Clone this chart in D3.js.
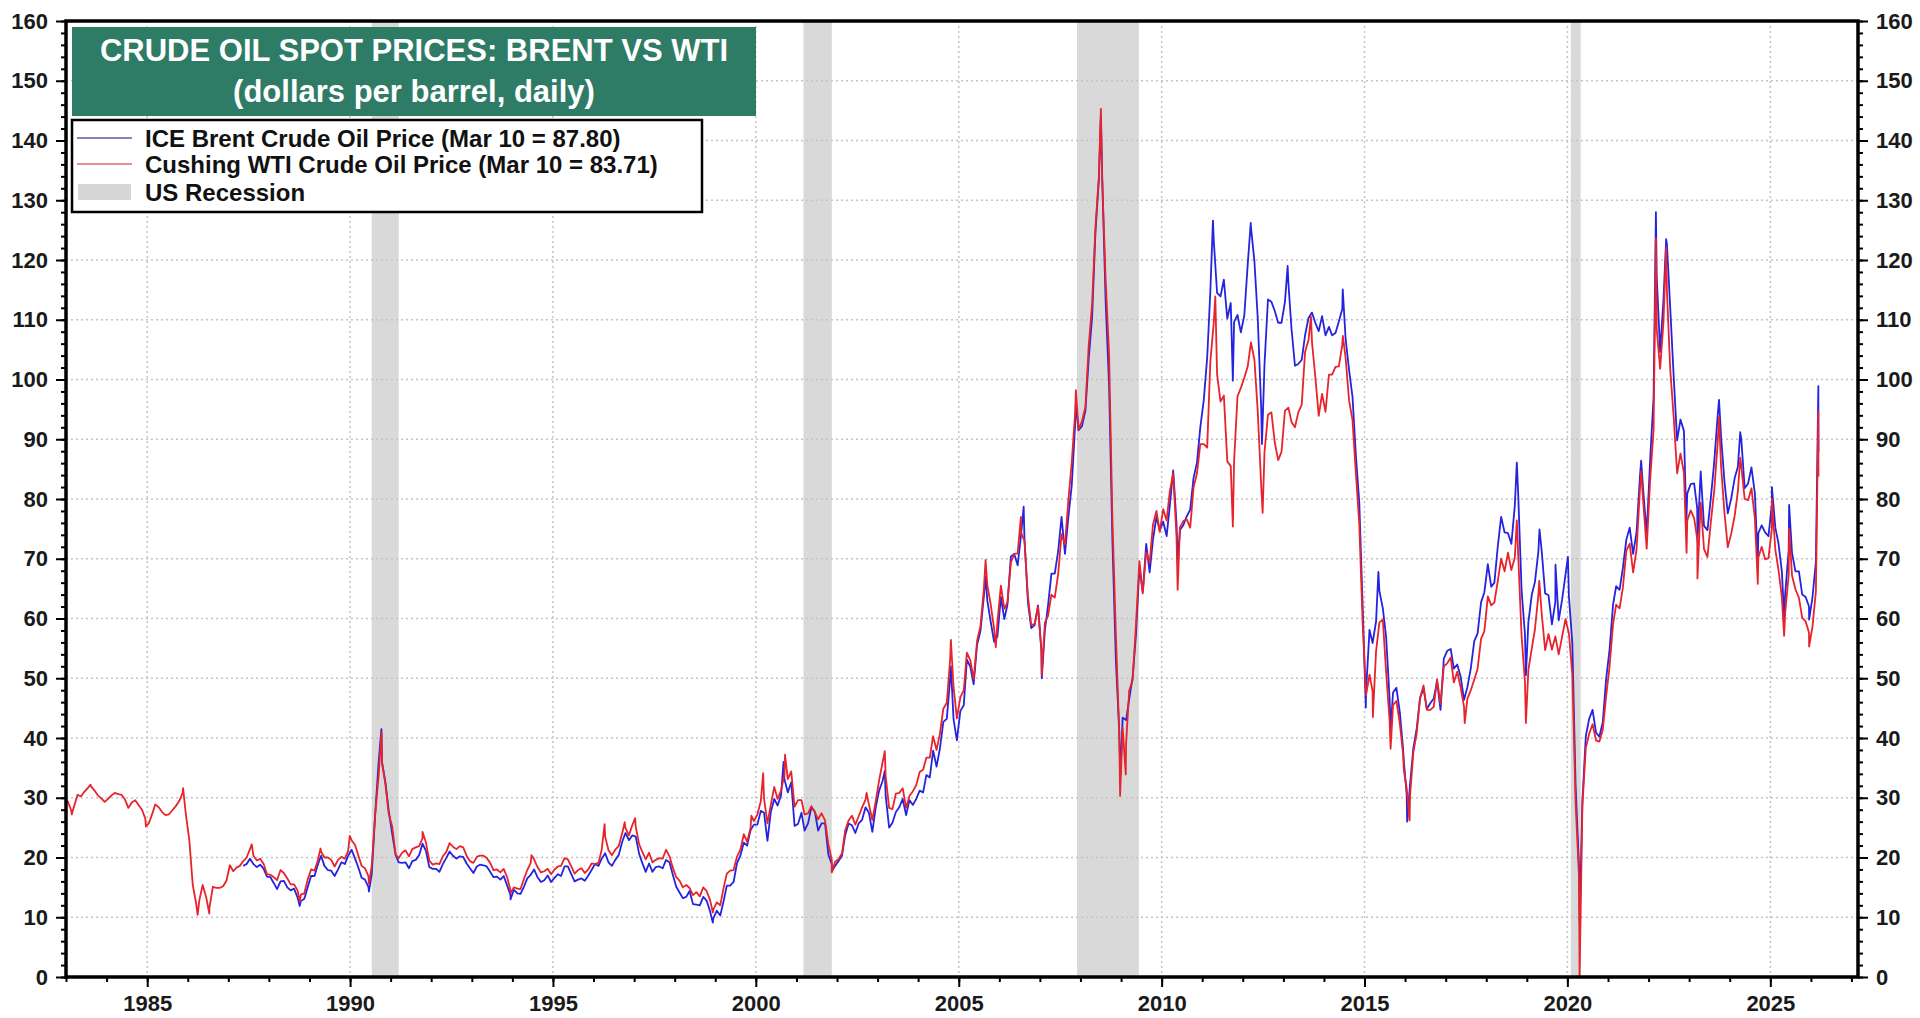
<!DOCTYPE html>
<html><head><meta charset="utf-8">
<script src="https://cdn.jsdelivr.net/npm/d3@7"></script>
<style>html,body{margin:0;padding:0;background:#fff;}svg{display:block;font-family:"Liberation Sans",Arial,sans-serif;}</style>
</head><body><svg id="c" width="1920" height="1018"></svg>
<script>
// ---------- DATA ----------
const titleLines = ["CRUDE OIL SPOT PRICES: BRENT VS WTI", "(dollars per barrel, daily)"];
const legendLabels = ["ICE Brent Crude Oil Price (Mar 10 = 87.80)", "Cushing WTI Crude Oil Price (Mar 10 = 83.71)", "US Recession"];
const yTicks = [0,10,20,30,40,50,60,70,80,90,100,110,120,130,140,150,160];
const xTickYears = [1985,1990,1995,2000,2005,2010,2015,2020,2025];
const recessions = [["1990-07-15","1991-03-15"],["2001-03-05","2001-11-15"],["2007-12-01","2009-06-10"],["2020-02-01","2020-04-30"]];

// WTI monthly readings, starting Jan 1983
const wtiStart = [1983, 0];
const wtiMonthly = [
29.5,28.0,28.6,30.5,30.2,31.0,31.6,31.9,31.2,30.4,29.9,29.3,
29.8,30.4,30.8,30.6,30.5,29.7,28.3,29.2,29.6,28.8,28.0,26.5,
25.7,27.3,28.9,28.4,27.6,27.1,27.2,27.9,28.6,29.4,30.8,27.2,
22.9,15.4,12.6,12.8,15.4,13.4,11.6,15.1,14.9,14.9,15.2,16.1,
18.7,17.7,18.3,18.6,19.4,20.0,21.4,20.3,19.5,19.8,18.9,17.2,
17.1,16.7,16.2,17.9,17.4,16.5,15.5,15.5,14.5,13.8,14.0,16.3,
18.0,17.8,19.4,21.0,20.0,20.0,19.6,18.5,19.6,20.1,19.8,21.1,
22.9,22.1,20.4,18.6,18.2,16.9,18.6,27.2,33.7,35.9,32.3,27.3,
25.2,20.5,19.9,20.8,21.2,20.2,21.4,21.7,21.9,23.2,22.5,19.5,
18.8,19.0,18.9,20.2,20.9,22.4,21.8,21.4,21.9,21.7,20.3,19.4,
19.1,20.1,20.3,20.3,19.9,19.1,17.9,18.0,17.5,18.1,16.7,14.5,
15.0,14.8,14.7,16.4,17.9,19.1,19.7,18.4,17.5,17.7,18.1,17.2,
18.0,18.5,18.6,19.9,19.7,18.5,17.3,17.9,18.2,17.4,18.0,19.0,
18.9,19.1,21.3,23.5,21.2,20.4,21.3,21.9,24.0,24.9,23.7,25.4,
25.2,22.2,21.0,19.7,20.8,19.2,19.6,19.9,19.8,21.3,20.2,18.3,
16.7,16.1,15.0,15.4,14.9,13.7,14.2,13.5,15.0,14.4,12.9,11.3,
12.5,12.0,14.7,17.3,17.8,17.9,20.1,21.3,23.9,22.6,25.0,26.1,
27.2,29.4,29.9,25.7,28.8,31.8,29.8,31.2,33.9,33.1,34.4,28.5,
29.6,29.6,27.2,27.4,28.6,27.6,26.4,27.4,26.2,22.2,19.6,19.3,
19.7,20.7,24.5,26.2,27.0,25.5,26.9,28.4,29.7,28.9,26.3,29.4,
32.9,35.9,33.6,28.3,28.1,30.7,30.8,31.6,28.3,30.3,31.1,32.1,
34.3,34.7,36.7,36.7,40.3,38.0,40.7,44.9,45.9,53.1,48.5,43.3,
46.8,48.0,54.3,53.0,49.8,56.3,58.7,65.0,65.6,62.4,58.3,59.4,
65.5,61.6,62.7,69.4,70.8,70.9,74.4,73.0,63.8,58.9,59.1,62.0,
54.5,59.3,60.4,64.0,63.5,67.5,74.1,72.4,79.9,86.2,94.6,91.7,
93.0,95.4,105.5,112.6,125.4,133.9,133.4,116.7,104.1,76.6,57.3,41.1,
41.7,39.1,47.9,49.7,59.0,69.6,64.2,71.1,69.4,75.7,78.0,74.5,
78.3,76.4,81.2,84.3,73.7,75.3,76.3,76.6,75.2,81.9,84.3,89.2,
89.2,88.6,102.9,109.5,100.9,96.3,97.3,86.3,85.5,86.3,97.2,98.6,
100.3,102.2,106.2,103.3,94.7,82.3,87.9,94.1,94.5,89.5,86.5,87.9,
94.8,95.3,92.9,92.0,94.5,95.8,104.6,106.6,106.3,100.5,93.9,97.6,
94.6,100.8,100.8,102.1,102.2,105.8,103.6,96.5,93.2,84.4,75.8,59.3,
47.2,50.6,47.8,54.5,59.3,59.8,50.9,42.9,45.5,46.2,42.4,37.2,
31.7,30.3,37.5,40.8,46.7,48.8,44.7,44.7,45.2,49.8,45.7,52.0,
52.5,53.5,49.3,51.1,48.5,45.2,46.6,48.0,49.8,51.6,56.6,57.9,
63.7,62.2,62.7,66.3,70.0,67.9,71.0,68.1,70.2,70.8,57.0,49.5,
51.4,55.0,58.2,63.9,60.8,54.7,57.4,54.8,57.0,54.0,57.0,59.9,
57.5,50.5,29.2,16.6,28.6,38.3,40.7,42.3,39.6,39.4,41.4,47.0,
52.0,59.0,62.3,61.7,65.2,71.4,72.5,67.7,71.6,81.5,79.2,71.7,
83.2,91.6,108.5,101.8,109.6,114.8,101.6,93.7,84.3,87.6,84.4,76.4,
78.1,76.8,73.3,79.4,71.6,70.3,76.1,81.4,89.4,85.6,77.7,71.9,
74.2,77.2,81.3,85.4,80.0,79.8,81.8,76.7,70.2,72.0,69.9,70.1,
75.1,71.5,68.2,63.5,61.0,67.3,67.2,64.9,63.5,60.1,59.5,57.6,
58.6,64.5
];
// WTI single-day highs and lows visible in the chart
const wtiDaily = [
["1983-02-22",27.2],["1983-08-10",32.2],["1984-12-20",25.2],["1985-11-20",31.6],
["1986-03-31",10.4],["1986-07-14",10.6],["1987-07-31",22.2],["1988-10-05",12.6],
["1989-04-10",21.5],["1989-12-29",23.6],["1990-06-20",15.6],["1990-10-11",41.0],
["1991-10-15",24.3],["1993-12-15",14.0],["1994-06-22",20.4],["1996-04-10",25.6],
["1996-10-08",25.9],["1997-01-10",26.6],["1998-12-10",10.8],["1999-11-22",27.0],
["2000-03-07",34.1],["2000-09-20",37.2],["2001-11-15",17.5],["2002-09-24",30.8],
["2003-03-07",37.8],["2004-10-22",56.4],["2005-08-30",69.8],["2005-11-30",55.2],
["2006-07-14",77.0],["2007-01-18",50.5],["2007-11-21",98.2],["2008-07-03",145.3],
["2008-12-23",30.3],["2009-02-12",33.9],["2010-05-25",64.8],["2011-04-29",113.9],
["2011-10-04",75.4],["2012-06-28",77.7],["2013-09-06",110.5],["2014-06-20",107.3],
["2015-03-17",43.5],["2015-08-24",38.2],["2015-12-21",34.6],["2016-02-11",26.2],
["2017-06-21",42.5],["2018-10-03",76.4],["2018-12-24",42.5],["2019-04-23",66.3],
["2020-04-20",0],["2021-10-26",84.6],["2022-03-08",123.7],["2022-06-08",122.1],
["2022-12-09",71.0],["2023-03-17",66.7],["2023-09-27",93.7],["2024-04-05",86.9],
["2024-09-10",65.8],["2025-01-15",80.0],["2025-05-05",57.1],["2025-06-19",75.1],
["2025-12-16",55.3],["2026-03-09",94.7],["2026-03-10",83.71]
];

// Brent monthly readings, starting May 1987
const brentStart = [1987, 4];
const brentMonthly = [
18.6,18.9,19.8,18.9,18.4,18.8,18.1,16.8,
16.7,15.7,14.7,16.0,16.1,15.0,14.5,14.8,13.3,12.7,13.1,15.0,
16.9,16.9,18.7,20.3,18.6,17.9,17.8,16.9,18.0,19.2,18.9,20.3,
21.3,19.8,18.4,16.6,16.3,15.1,17.2,27.2,35.9,36.0,32.6,27.8,
24.0,20.4,19.2,19.1,19.2,18.2,19.4,19.6,20.4,22.3,21.1,18.4,
18.1,18.1,17.6,18.9,19.9,21.0,20.3,19.8,20.2,20.1,19.0,18.2,
17.4,18.5,18.8,18.7,18.5,17.6,16.7,16.8,16.3,16.9,15.3,13.7,
14.6,14.0,13.9,15.1,16.5,17.1,18.0,16.7,15.9,16.2,17.0,15.9,
16.6,17.2,16.9,18.5,18.5,17.2,16.0,16.3,16.5,16.1,17.0,17.9,
18.9,18.6,19.8,20.7,19.2,18.6,19.6,20.4,22.6,24.1,22.9,23.7,
23.5,20.6,19.1,17.6,19.0,17.6,18.4,18.5,18.2,19.6,19.2,17.1,
15.1,14.1,13.2,13.4,14.4,12.2,12.1,12.0,13.4,12.8,11.0,9.8,
11.1,10.3,12.5,15.3,15.3,15.9,19.0,20.3,22.5,22.0,24.6,25.5,
25.5,27.8,27.5,22.8,27.6,29.8,28.7,30.4,33.1,30.9,32.6,25.3,
25.6,27.5,24.5,25.7,28.4,27.7,24.5,25.7,25.7,20.5,18.9,18.6,
19.4,20.3,23.7,25.7,25.4,24.1,25.7,26.3,28.4,27.5,24.3,28.3,
31.2,32.8,30.3,25.0,25.8,27.6,28.4,29.8,27.1,29.6,28.8,29.8,
31.2,30.9,33.8,33.4,37.9,35.2,38.2,42.7,43.2,49.8,43.1,39.6,
44.5,45.5,53.1,51.9,49.0,55.6,57.9,63.8,63.0,59.5,56.1,57.0,
63.6,59.9,62.3,70.4,70.8,68.9,73.9,73.6,62.8,58.4,58.9,62.2,
54.6,58.0,62.1,67.5,67.5,71.3,77.0,70.8,77.1,82.3,92.5,91.5,
92.2,94.8,103.3,110.4,124.6,133.5,133.9,113.0,99.0,72.9,53.0,41.3,
43.4,43.0,46.5,50.2,57.3,68.6,64.4,72.5,67.7,73.2,77.0,74.7,
76.2,73.8,78.8,84.8,75.9,74.8,75.6,77.1,78.2,83.5,86.1,92.0,
96.5,103.7,114.6,123.3,114.5,113.9,116.7,110.2,112.8,109.6,110.8,107.9,
110.7,119.3,125.5,119.8,110.3,95.2,102.6,113.4,113.0,111.5,109.5,109.5,
113.0,116.1,108.5,102.3,102.6,103.3,107.4,110.3,111.2,109.5,108.1,110.6,
107.4,108.8,107.4,107.8,109.7,111.8,106.8,101.6,97.1,87.4,79.4,62.3,
47.8,58.1,55.9,59.5,64.6,61.7,56.8,46.5,47.6,48.4,44.3,38.0,
30.7,32.2,38.2,41.6,46.7,48.3,44.9,45.8,46.6,49.5,44.7,53.3,
54.6,54.9,51.6,52.3,50.3,46.4,48.5,51.7,56.2,57.5,62.7,64.4,
69.1,65.3,66.0,72.1,77.0,74.4,74.3,72.5,78.9,81.0,64.7,57.4,
59.4,64.0,66.1,71.2,71.3,64.2,63.9,59.0,62.8,59.7,63.2,67.3,
63.7,55.7,32.0,18.4,29.4,40.3,43.2,44.7,40.9,40.2,42.7,49.9,
54.8,62.3,65.4,64.8,68.5,73.2,75.2,70.8,74.5,83.7,81.1,74.2,
86.5,97.1,117.3,104.6,113.3,122.7,111.9,100.5,89.8,93.3,91.4,80.9,
82.5,82.6,78.4,84.6,75.5,74.8,80.1,86.2,94.0,90.6,82.9,77.6,
80.1,83.5,85.4,89.9,81.8,82.6,85.3,80.9,74.3,75.6,74.4,73.8,
79.2,75.2,72.6,67.8,64.2,71.4,71.0,67.9,67.9,64.0,63.6,62.0,
63.5,69.5
];
// Brent single-day highs and lows visible in the chart
const brentDaily = [
["1988-10-05",11.9],["1990-06-20",14.3],["1990-10-10",41.5],["1993-12-15",13.0],
["1998-12-10",9.1],["2000-09-07",36.0],["2001-11-15",17.7],["2003-03-07",34.5],
["2004-10-22",52.0],["2005-08-30",67.0],["2006-08-08",78.7],["2007-01-18",50.0],
["2007-11-21",96.0],["2008-07-03",144.0],["2008-12-26",33.7],["2010-05-25",69.6],
["2011-04-08",126.6],["2011-10-04",99.8],["2012-03-13",126.2],["2012-06-22",89.2],
["2013-02-08",119.0],["2014-06-19",115.1],["2015-01-13",45.1],["2015-05-06",67.8],
["2015-08-24",41.6],["2015-12-21",36.1],["2016-01-20",26.0],["2018-10-03",86.1],
["2018-12-24",50.5],["2019-04-25",74.9],["2019-09-16",69.0],["2020-01-06",70.3],
["2020-04-21",9.1],["2021-10-26",86.4],["2022-03-08",128.0],["2022-06-08",123.5],
["2022-12-07",76.1],["2023-03-17",73.0],["2023-09-27",96.6],["2024-04-05",91.2],
["2024-09-10",69.2],["2025-01-15",82.0],["2025-05-05",60.2],["2025-06-19",79.0],
["2025-12-16",59.8],["2026-03-09",98.9],["2026-03-10",87.80]
];

// ---------- BUILD ----------
const parse = d3.timeParse("%Y-%m-%d");
function build(start, monthly, daily){
  const pts = monthly.map((v,i)=>({d:new Date(start[0], start[1]+i, 15), v}));
  daily.forEach(([s,v])=>pts.push({d:parse(s), v}));
  pts.sort((a,b)=>a.d-b.d);
  return pts;
}
const wti = build(wtiStart, wtiMonthly, wtiDaily);
const brent = build(brentStart, brentMonthly, brentDaily);

const L=66, R=1858, T=21, B=977;
const svg = d3.select("#c");
const x = d3.scaleTime().domain([new Date(1983,0,1), new Date(2027,2,1)]).range([L,R]);
const y = d3.scaleLinear().domain([0,160]).range([B,T]);

svg.append("defs").append("clipPath").attr("id","pc").append("rect").attr("x",L).attr("y",T).attr("width",R-L).attr("height",B-T);

// recession bands
svg.append("g").selectAll("rect").data(recessions).join("rect")
  .attr("x",d=>x(parse(d[0]))).attr("width",d=>x(parse(d[1]))-x(parse(d[0])))
  .attr("y",T).attr("height",B-T).attr("fill","#d9d9d9");

// grid
const grid = svg.append("g").attr("stroke","#c4c4c4").attr("stroke-width",1.5).attr("stroke-dasharray","2,3");
grid.selectAll("line.h").data(yTicks.filter(t=>t>0&&t<160)).join("line")
  .attr("x1",L).attr("x2",R).attr("y1",d=>y(d)).attr("y2",d=>y(d));
grid.selectAll("line.v").data(xTickYears).join("line").attr("class","v")
  .attr("y1",T).attr("y2",B).attr("x1",d=>x(new Date(d,0,1))).attr("x2",d=>x(new Date(d,0,1)));

// lines
const line = d3.line().x(d=>x(d.d)).y(d=>y(d.v));
const lg = svg.append("g").attr("clip-path","url(#pc)").attr("fill","none").attr("stroke-width",1.8).attr("stroke-linejoin","round");
lg.append("path").datum(brent).attr("d",line).attr("stroke","#2424e0");
lg.append("path").datum(wti).attr("d",line).attr("stroke","#e8232b");

// axes
const yMinor = d3.range(0,161,2);
const yAxisL = d3.axisLeft(y).tickValues(yTicks).tickSize(10).tickPadding(8);
const yAxisR = d3.axisRight(y).tickValues(yTicks).tickSize(10).tickPadding(8);
const xYears = d3.range(1983,2028).map(yv=>new Date(yv,0,1));
const xAxis = d3.axisBottom(x).tickValues(xTickYears.map(v=>new Date(v,0,1))).tickFormat(d3.timeFormat("%Y")).tickSize(10).tickPadding(8);

function styleAxis(g){
  g.select(".domain").remove();
  g.selectAll(".tick line").attr("stroke","#000").attr("stroke-width",2);
  g.selectAll(".tick text").attr("fill","#1a1a1a").attr("font-size",22).attr("font-weight","bold").attr("font-family","'Liberation Sans',Arial,sans-serif");
}
svg.append("g").attr("transform",`translate(${L},0)`).call(yAxisL).call(styleAxis);
svg.append("g").attr("transform",`translate(${R},0)`).call(yAxisR).call(styleAxis);
svg.append("g").attr("transform",`translate(0,${B})`).call(xAxis).call(styleAxis);
// minor ticks
svg.append("g").attr("transform",`translate(${L},0)`).call(d3.axisLeft(y).tickValues(yMinor).tickSize(5).tickFormat("")).call(styleAxis);
svg.append("g").attr("transform",`translate(${R},0)`).call(d3.axisRight(y).tickValues(yMinor).tickSize(5).tickFormat("")).call(styleAxis);
svg.append("g").attr("transform",`translate(0,${B})`).call(d3.axisBottom(x).tickValues(xYears).tickSize(5).tickFormat("")).call(styleAxis);

// frame
svg.append("rect").attr("x",L).attr("y",T).attr("width",R-L).attr("height",B-T).attr("fill","none").attr("stroke","#000").attr("stroke-width",3.5);

// title box
const tb = svg.append("g");
tb.append("rect").attr("x",72).attr("y",27).attr("width",684).attr("height",89).attr("fill","#2e7b66");
tb.selectAll("text").data(titleLines).join("text")
  .attr("x",414).attr("y",(d,i)=>[61,102][i]).attr("text-anchor","middle")
  .attr("fill","#fff").attr("font-size",31).attr("font-weight","bold").text(d=>d);

// legend
const lb = svg.append("g");
lb.append("rect").attr("x",72).attr("y",120).attr("width",630).attr("height",92).attr("fill","#fff").attr("stroke","#000").attr("stroke-width",2.5);
const rowsY = [138,164,192];
lb.append("line").attr("x1",77).attr("x2",132).attr("y1",rowsY[0]).attr("y2",rowsY[0]).attr("stroke","#5a5aa8").attr("stroke-width",1.5);
lb.append("line").attr("x1",77).attr("x2",132).attr("y1",rowsY[1]).attr("y2",rowsY[1]).attr("stroke","#d86a6a").attr("stroke-width",1.5);
lb.append("rect").attr("x",78).attr("y",rowsY[2]-8).attr("width",53).attr("height",16).attr("fill","#d6d6d6");
lb.selectAll("text").data(legendLabels).join("text")
  .attr("x",145).attr("y",(d,i)=>rowsY[i]).attr("dy","0.36em")
  .attr("fill","#111").attr("font-size",24).attr("font-weight","bold").text(d=>d);
</script></body></html>
